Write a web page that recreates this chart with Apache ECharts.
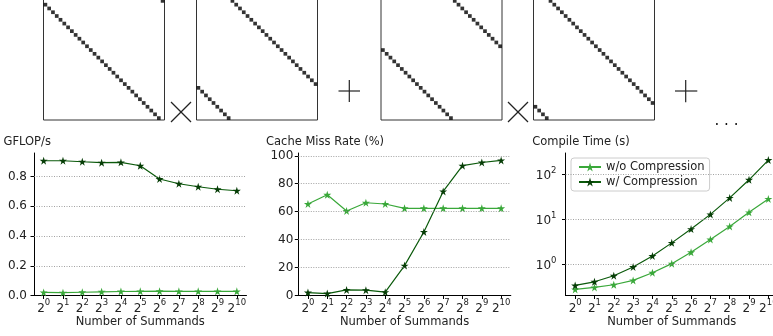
<!DOCTYPE html>
<html><head><meta charset="utf-8">
<script src="https://cdn.jsdelivr.net/npm/echarts@6/dist/echarts.min.js"></script>
<style>html,body{margin:0;padding:0;background:#fff}#c{width:773px;height:336px}</style>
</head><body><div id="c"></div>
<script>
// ---- data ----
const summandExponents = ['0','1','2','3','4','5','6','7','8','9','10'];
const seriesNames = ['w/o Compression', 'w/ Compression'];

const gflopsWithout = [0.021, 0.019, 0.022, 0.025, 0.027, 0.028, 0.029, 0.028, 0.028, 0.028, 0.028];
const gflopsWith    = [0.907, 0.907, 0.900, 0.894, 0.896, 0.873, 0.784, 0.752, 0.732, 0.715, 0.705];
const gflopsTicks   = [0, 0.2, 0.4, 0.6, 0.8];

const missWithout = [65.5, 72.1, 60.5, 66.4, 65.5, 62.4, 62.4, 62.4, 62.4, 62.4, 62.4];
const missWith    = [2.1, 1.4, 4.0, 3.8, 2.4, 21.4, 45.5, 74.5, 92.9, 95.2, 96.7];
const missTicks   = [0, 20, 40, 60, 80, 100];

const compileWithout = [0.277, 0.307, 0.352, 0.44, 0.652, 1.035, 1.85, 3.55, 6.92, 14.2, 28.2];
const compileWith    = [0.34, 0.41, 0.558, 0.872, 1.53, 2.99, 6.04, 12.8, 29.7, 74.8, 205];
const compileTicks   = [1, 10, 100];

// column of the nonzero in each row (32x32 shifted identity matrices)
const matrixSize = 32;
const matrixCols1 = [31,0,1,2,3,4,5,6,7,8,9,10,11,12,13,14,15,16,17,18,19,20,21,22,23,24,25,26,27,28,29,30];
const matrixCols2 = [9,10,11,12,13,14,15,16,17,18,19,20,21,22,23,24,25,26,27,28,29,30,31,0,1,2,3,4,5,6,7,8];
const matrixCols3 = [19,20,21,22,23,24,25,26,27,28,29,30,31,0,1,2,3,4,5,6,7,8,9,10,11,12,13,14,15,16,17,18];
const matrixCols4 = [4,5,6,7,8,9,10,11,12,13,14,15,16,17,18,19,20,21,22,23,24,25,26,27,28,29,30,31,0,1,2,3];

// ---- styling ----
const F = 'DejaVu Sans';
const TXT = '#222';
const LIGHT = '#3aa83a';
const DARK = '#0b5a0b';
const DARK_MARK = '#063d06';
const STAR = 'path://M50,0 L61.8,36.2 L100,36.2 L69.1,58.6 L80.9,95.1 L50,72.6 L19.1,95.1 L30.9,58.6 L0,36.2 L38.2,36.2 Z';

const supRich = {
  b: {fontSize: 12, fontFamily: F, color: TXT, lineHeight: 16, verticalAlign: 'bottom'},
  s: {fontSize: 8.5, fontFamily: F, color: TXT, verticalAlign: 'top'}
};

const matrices = [matrixCols1, matrixCols2, matrixCols3, matrixCols4];
const matrixLefts = [43.5, 196.5, 381, 533.5];

const grids = [];
const xAxes = [];
const yAxes = [];
const series = [];

matrices.forEach((cols, i) => {
  grids.push({left: matrixLefts[i], top: -1, width: 121, height: 121, show: true,
    borderColor: '#333', borderWidth: 1, backgroundColor: 'transparent', outerBoundsMode: 'none'});
  xAxes.push({type: 'value', gridIndex: i, min: 0, max: matrixSize, show: false});
  yAxes.push({type: 'value', gridIndex: i, min: 0, max: matrixSize, inverse: true, show: false});
  series.push({type: 'scatter', xAxisIndex: i, yAxisIndex: i, symbol: 'rect', symbolSize: 3.7,
    itemStyle: {color: '#000'}, silent: true,
    data: cols.map((c, r) => [c + 0.5, r + 0.5])});
});

const plotGrids = [
  {left: 34, top: 153, width: 212.5, height: 142.5},
  {left: 298.3, top: 153, width: 212.5, height: 142.5},
  {left: 565.5, top: 153, width: 212.5, height: 142.5}
];

function xAxisFor(gi) {
  return {type: 'category', gridIndex: gi, data: summandExponents, boundaryGap: true,
    axisLine: {show: true, lineStyle: {color: '#000', width: 1}},
    axisTick: {show: true, alignWithLabel: true, length: 3.5, lineStyle: {color: '#000'}},
    axisLabel: {interval: 0, margin: 3, hideOverlap: false, formatter: e => '{b|2}{s|' + e + '}', rich: supRich},
    splitLine: {show: false},
    name: 'Number of Summands', nameLocation: 'middle', nameGap: 21,
    nameTextStyle: {fontSize: 11.5, fontFamily: F, color: TXT}};
}

plotGrids.forEach((g, k) => {
  grids.push(Object.assign({show: false, outerBoundsMode: 'none'}, g));
  xAxes.push(xAxisFor(4 + k));
});

yAxes.push({type: 'value', gridIndex: 4, min: 0, max: 0.959,
  axisLine: {show: true, lineStyle: {color: '#000', width: 1}},
  axisTick: {show: true, length: 3.5, customValues: gflopsTicks, lineStyle: {color: '#000'}},
  axisLabel: {customValues: gflopsTicks, formatter: v => v.toFixed(1), fontSize: 12, fontFamily: F, color: TXT, margin: 7},
  splitLine: {show: false}});
yAxes.push({type: 'value', gridIndex: 5, min: 0, max: 102,
  axisLine: {show: true, lineStyle: {color: '#000', width: 1}},
  axisTick: {show: true, length: 3.5, customValues: missTicks, lineStyle: {color: '#000'}},
  axisLabel: {customValues: missTicks, formatter: v => String(v), fontSize: 12, fontFamily: F, color: TXT, margin: 5},
  splitLine: {show: false}});
yAxes.push({type: 'log', logBase: 10, gridIndex: 6, min: 0.2036, max: 294,
  axisLine: {show: true, lineStyle: {color: '#000', width: 1}},
  axisTick: {show: true, length: 3.5, lineStyle: {color: '#000'}},
  axisLabel: {showMinLabel: false, showMaxLabel: false, margin: 9,
    formatter: v => '{b|10}{s|' + Math.round(Math.log10(v)) + '}', rich: supRich},
  splitLine: {show: false}});

function gridLines(vals) {
  return {silent: true, symbol: ['none', 'none'], label: {show: false}, animation: false,
    lineStyle: {color: '#8a8a8a', type: [1, 1.5], width: 0.8},
    emphasis: {disabled: true},
    data: vals.map(v => ({yAxis: v}))};
}

const plotData = [
  [gflopsWithout, gflopsWith, gflopsTicks.filter(v => v > 0)],
  [missWithout, missWith, missTicks.filter(v => v > 0)],
  [compileWithout, compileWith, compileTicks]
];

plotData.forEach((pd, k) => {
  const ai = 4 + k;
  series.push({type: 'line', name: seriesNames[0], xAxisIndex: ai, yAxisIndex: ai, data: pd[0],
    symbol: STAR, symbolSize: 8, showSymbol: true, z: 3,
    lineStyle: {color: LIGHT, width: 1.2}, itemStyle: {color: LIGHT},
    markLine: gridLines(pd[2])});
  series.push({type: 'line', name: seriesNames[1], xAxisIndex: ai, yAxisIndex: ai, data: pd[1],
    symbol: STAR, symbolSize: 8, showSymbol: true, z: 4,
    lineStyle: {color: DARK, width: 1.2}, itemStyle: {color: DARK_MARK}});
});

function seg(x1, y1, x2, y2) {
  return {type: 'line', shape: {x1, y1, x2, y2}, style: {stroke: '#222', lineWidth: 1.2}, silent: true};
}
function title(x, y, text) {
  return {type: 'text', x, y, silent: true,
    style: {text, fontSize: 11.5, fontFamily: F, fill: TXT, align: 'left', verticalAlign: 'middle'}};
}

const graphics = [
  seg(171, 102, 191, 122), seg(171, 122, 191, 102),
  seg(338.5, 91, 360, 91), seg(349.3, 80, 349.3, 102),
  seg(508, 102, 528, 122), seg(508, 122, 528, 102),
  seg(675, 91, 697.3, 91), seg(685.7, 80, 685.7, 102.3),
  {type: 'text', x: 726.5, y: 121, silent: true,
    style: {text: '. . .', fontSize: 15, fontFamily: F, fill: '#111', align: 'center', verticalAlign: 'middle'}},
  title(3.5, 141.7, 'GFLOP/s'),
  title(266, 141.7, 'Cache Miss Rate (%)'),
  title(532.3, 141.7, 'Compile Time (s)')
];

const chart = echarts.init(document.getElementById('c'), null, {renderer: 'canvas'});
chart.setOption({
  animation: false,
  backgroundColor: '#fff',
  textStyle: {fontFamily: F},
  grid: grids,
  xAxis: xAxes,
  yAxis: yAxes,
  series: series,
  legend: {show: true, orient: 'vertical', left: 571, top: 158, data: seriesNames,
    itemWidth: 22, itemHeight: 11, itemGap: 1, padding: [2, 5, 2, 7],
    backgroundColor: 'rgba(255,255,255,0.85)', borderColor: '#cccccc', borderWidth: 1, borderRadius: 3,
    selectedMode: false,
    textStyle: {fontSize: 11.5, fontFamily: F, color: TXT, lineHeight: 14}},
  graphic: graphics
});
</script>
</body></html>
